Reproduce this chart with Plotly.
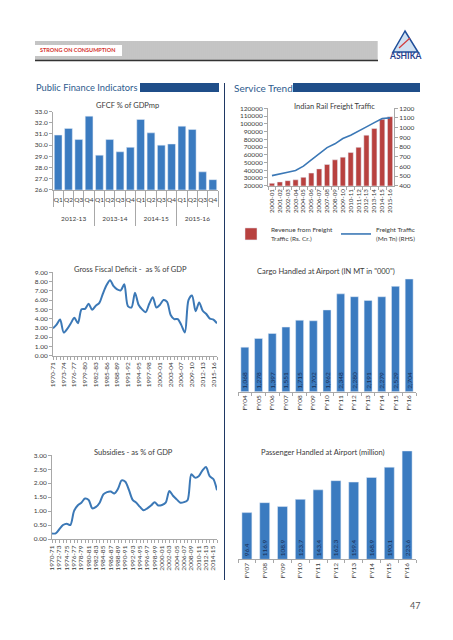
import plotly.graph_objects as go

# ---------------- DATA ----------------
gfcf_years = ["2012-13", "2013-14", "2014-15", "2015-16"]
quarters = ["Q1", "Q2", "Q3", "Q4"]
gfcf_values = [30.9, 31.5, 30.5, 32.6,
               29.1, 30.5, 29.4, 29.8,
               32.3, 31.1, 30.0, 30.1,
               31.7, 31.4, 27.6, 26.9]

rail_years = ["2000-01", "2001-02", "2002-03", "2003-04", "2004-05", "2005-06",
              "2006-07", "2007-08", "2008-09", "2009-10", "2010-11", "2011-12",
              "2012-13", "2013-14", "2014-15", "2015-16"]
rail_revenue = [23045, 24845, 26504, 27618, 30778, 36287, 41716, 47435,
                53433, 56911, 62845, 69548, 85263, 93906, 105791, 109208]
rail_traffic = [504, 519, 540, 557, 602, 667, 728, 794,
                833, 888, 922, 969, 1008, 1052, 1095, 1101]

gfd_years = ["1970-71", "1971-72", "1972-73", "1973-74", "1974-75", "1975-76",
             "1976-77", "1977-78", "1978-79", "1979-80", "1980-81", "1981-82",
             "1982-83", "1983-84", "1984-85", "1985-86", "1986-87", "1987-88",
             "1988-89", "1989-90", "1990-91", "1991-92", "1992-93", "1993-94",
             "1994-95", "1995-96", "1996-97", "1997-98", "1998-99", "1999-00",
             "2000-01", "2001-02", "2002-03", "2003-04", "2004-05", "2005-06",
             "2006-07", "2007-08", "2008-09", "2009-10", "2010-11", "2011-12",
             "2012-13", "2013-14", "2014-15", "2015-16", "2016-17"]
gfd_values = [2.95, 3.35, 3.9, 2.5, 2.9, 3.5, 4.1, 3.5, 5.0, 5.05,
              5.6, 4.95, 5.4, 5.7, 6.7, 7.6, 8.15, 7.5, 7.15, 7.05,
              7.7, 5.35, 5.2, 6.8, 5.5, 5.0, 4.7, 5.6, 6.3, 5.2,
              5.5, 6.0, 5.8, 4.4, 3.95, 3.95, 3.3, 2.5, 6.0, 6.5,
              4.8, 5.75, 4.85, 4.5, 4.0, 3.9, 3.5]
gfd_tick_labels = ["1970-71", "1973-74", "1976-77", "1979-80", "1982-83", "1985-86",
                   "1988-89", "1991-92", "1994-95", "1997-98", "2000-01", "2003-04",
                   "2006-07", "2009-10", "2012-13", "2015-16"]

subs_years = gfd_years[:46]
subs_values = [0.2, 0.2, 0.35, 0.5, 0.55, 0.5, 1.0, 1.2, 1.3, 1.45,
               1.4, 1.1, 1.15, 1.3, 1.6, 1.68, 1.7, 1.63, 1.8, 2.1,
               2.05, 1.75, 1.4, 1.3, 1.15, 1.03, 1.1, 1.2, 1.32, 1.2,
               1.22, 1.3, 1.72, 1.55, 1.42, 1.3, 1.32, 1.4, 2.32, 2.2,
               2.25, 2.45, 2.58, 2.25, 2.15, 1.75]
subs_tick_labels = ["1970-71", "1972-73", "1974-75", "1976-77", "1978-79", "1980-81",
                    "1982-83", "1984-85", "1986-87", "1988-89", "1990-91", "1992-93",
                    "1994-95", "1996-97", "1998-99", "2000-01", "2002-03", "2004-05",
                    "2006-07", "2008-09", "2010-11", "2012-13", "2014-15"]

cargo_years = ["FY04", "FY05", "FY06", "FY07", "FY08", "FY09", "FY10",
               "FY11", "FY12", "FY13", "FY14", "FY15", "FY16"]
cargo_values = [1068, 1278, 1397, 1551, 1715, 1702, 1962, 2348, 2280, 2191, 2279, 2529, 2704]

pass_years = ["FY07", "FY08", "FY09", "FY10", "FY11", "FY12", "FY13", "FY14", "FY15", "FY16"]
pass_values = [96.4, 116.9, 108.9, 123.7, 143.4, 162.3, 159.4, 168.9, 190.1, 223.6]

# ---------------- STYLE ----------------
W, H = 453, 640
def X(px):
    return px / W
def Y(py):
    return 1 - py / H

FONT = "Lato"
BLUE = "#3B7BC0"
RED = "#B8413F"
LINEC = "#3B78B6"
NAVY = "#1F4E89"
AX = "#a8a8a8"
TXT = "#3a3a3a"
TF = dict(size=6.5, color=TXT, family=FONT)
LBL = dict(size=6.5, color="#1A2F55", family=FONT)

fig = go.Figure()

gfcf_ids = [f"{y} {q}" for y in gfcf_years for q in quarters]
gfcf_qlabels = [q for _ in gfcf_years for q in quarters]
fig.add_trace(go.Bar(x=gfcf_ids, y=gfcf_values, marker_color=BLUE,
                     width=0.75, xaxis="x", yaxis="y", showlegend=False))
# carrier of the fiscal-year category axis (no visible marks)
fig.add_trace(go.Scatter(x=gfcf_years, y=[None] * len(gfcf_years), mode="markers",
                         marker=dict(opacity=0), xaxis="x8", yaxis="y",
                         showlegend=False, hoverinfo="skip"))

fig.add_trace(go.Bar(x=rail_years, y=rail_revenue, marker_color=RED, width=0.66,
                     name="Revenue from Freight<br>Traffic (Rs. Cr.)",
                     xaxis="x2", yaxis="y2"))
fig.add_trace(go.Scatter(x=rail_years, y=rail_traffic, mode="lines",
                         line=dict(color=LINEC, width=1.6),
                         name="Freight Traffic<br>(Mn Tn) (RHS)",
                         xaxis="x2", yaxis="y3"))

fig.add_trace(go.Scatter(x=gfd_years, y=gfd_values, mode="lines",
                         line=dict(color=LINEC, width=2, shape="spline", smoothing=0.8),
                         xaxis="x4", yaxis="y4", showlegend=False))

fig.add_trace(go.Bar(x=cargo_years, y=cargo_values, marker_color=BLUE, width=0.58,
                     texttemplate="%{y:,}", textposition="inside", insidetextanchor="start",
                     textangle=-90, constraintext="none",
                     textfont=LBL, insidetextfont=LBL,
                     xaxis="x5", yaxis="y5", showlegend=False))

fig.add_trace(go.Scatter(x=subs_years, y=subs_values, mode="lines",
                         line=dict(color=LINEC, width=2, shape="spline", smoothing=0.8),
                         xaxis="x6", yaxis="y6", showlegend=False))

fig.add_trace(go.Bar(x=pass_years, y=pass_values, marker_color=BLUE, width=0.56,
                     texttemplate="%{y:.1f}", textposition="inside", insidetextanchor="start",
                     textangle=-90, constraintext="none",
                     textfont=LBL, insidetextfont=LBL,
                     xaxis="x7", yaxis="y7", showlegend=False))

ycommon = dict(showgrid=False, zeroline=False, showline=True, linecolor=AX,
               ticks="outside", ticklen=3, tickcolor=AX, tickfont=TF, fixedrange=True,
               automargin=False)
xcommon = dict(showgrid=False, zeroline=False, showline=True, linecolor=AX,
               ticks="outside", ticklen=3, tickcolor=AX, tickfont=TF, fixedrange=True,
               automargin=False)

gfd_ticktext = [y if y in gfd_tick_labels else "" for y in gfd_years]
subs_ticktext = [y if y in subs_tick_labels else "" for y in subs_years]

fig.update_layout(
    width=W, height=H, autosize=False,
    margin=dict(l=0, r=0, t=0, b=0, autoexpand=False),
    paper_bgcolor="white", plot_bgcolor="rgba(0,0,0,0)",
    font=dict(family=FONT, color=TXT),
    # GFCF: quarter row
    xaxis=dict(xcommon, domain=[X(53), X(218)], anchor="y", type="category",
               tickmode="array", tickvals=gfcf_ids, ticktext=gfcf_qlabels,
               tickson="boundaries", ticklen=16, tickangle=0,
               ticklabelstandoff=3, range=[-0.5, 15.5]),
    # GFCF: fiscal-year row with long dividers
    xaxis8=dict(showgrid=False, zeroline=False, showline=False, overlaying="x",
                anchor="free", position=Y(226), type="category",
                categoryorder="array", categoryarray=gfcf_years,
                range=[-0.5, 3.5], tickmode="array", tickvals=gfcf_years,
                tickson="boundaries", ticks="inside", ticklen=36, tickcolor=AX,
                tickangle=0, tickfont=TF, ticklabelstandoff=-13,
                fixedrange=True, automargin=False),
    yaxis=dict(ycommon, domain=[Y(189.7), Y(111.7)], anchor="x", range=[26, 33],
               dtick=1, tickformat=".1f"),
    xaxis2=dict(xcommon, domain=[X(268), X(394)], anchor="y2", tickangle=-90,
                type="category", range=[-0.5, 15.5], tickson="boundaries",
                tickmode="array", tickvals=rail_years, tickfont=dict(TF, size=6.2)),
    yaxis2=dict(ycommon, domain=[Y(185.7), Y(108.3)], anchor="x2",
                range=[20000, 120000], dtick=10000, tickformat="d"),
    yaxis3=dict(ycommon, overlaying="y2", side="right", anchor="x2",
                range=[400, 1200], dtick=100, tickformat="d"),
    xaxis4=dict(xcommon, domain=[X(53), X(217)], anchor="y4", tickangle=-90,
                type="category", range=[0, len(gfd_years) - 1], tickmode="array",
                tickvals=gfd_years, ticktext=gfd_ticktext),
    yaxis4=dict(ycommon, domain=[Y(355.7), Y(272.3)], anchor="x4",
                range=[0, 9], dtick=1, tickformat=".2f"),
    xaxis5=dict(xcommon, domain=[X(238), X(416)], anchor="y5", tickangle=-90,
                type="category", range=[-0.5, len(cargo_years) - 0.5], tickson="boundaries"),
    yaxis5=dict(domain=[Y(391.7), Y(266.7)], anchor="x5", range=[0, 3000],
                visible=False, fixedrange=True),
    xaxis6=dict(xcommon, domain=[X(52), X(217)], anchor="y6", tickangle=-90,
                type="category", range=[0, len(subs_years) - 1], tickmode="array",
                tickvals=subs_years, ticktext=subs_ticktext),
    yaxis6=dict(ycommon, domain=[Y(539), Y(455.3)], anchor="x6",
                range=[0, 3], dtick=0.5, tickformat=".2f"),
    xaxis7=dict(xcommon, domain=[X(238), X(416)], anchor="y7", tickangle=-90,
                type="category", range=[-0.5, len(pass_years) - 0.5], tickson="boundaries"),
    yaxis7=dict(domain=[Y(559.3), Y(450.3)], anchor="x7", range=[0, 225],
                visible=False, fixedrange=True),
    legend=dict(orientation="h", x=X(231), y=Y(219), xanchor="left", yanchor="top",
                font=dict(size=6.5, color=TXT, family=FONT), bgcolor="rgba(0,0,0,0)",
                itemwidth=30, entrywidth=60, entrywidthmode="pixels",
                tracegroupgap=0),
)

shapes = []
# header band
shapes.append(dict(type="rect", xref="paper", yref="paper", x0=X(35), x1=X(378),
                   y0=Y(60), y1=Y(41), fillcolor="#d6d6d6", line=dict(width=0), layer="below"))
for sx in range(36, 378, 2):
    shapes.append(dict(type="line", xref="paper", yref="paper", x0=X(sx), x1=X(sx),
                       y0=Y(60), y1=Y(41), line=dict(color="#b3b3b3", width=1), layer="below"))
shapes.append(dict(type="rect", xref="paper", yref="paper", x0=X(35), x1=X(122),
                   y0=Y(56), y1=Y(45), fillcolor="white", line=dict(width=0)))
shapes.append(dict(type="line", xref="paper", yref="paper", x0=X(35), x1=X(378),
                   y0=Y(60.5), y1=Y(60.5), line=dict(color="#333333", width=1.5)))
# logo
shapes.append(dict(type="path", xref="paper", yref="paper",
                   path=f"M {X(405)} {Y(31)} L {X(393)} {Y(52)} L {X(418)} {Y(52)} Z",
                   fillcolor="#cfe0f1", line=dict(color="#1F4E9A", width=1.5)))
shapes.append(dict(type="line", xref="paper", yref="paper", x0=X(399), x1=X(410),
                   y0=Y(48), y1=Y(38), line=dict(color="#d23a3a", width=1.2)))
# section headers
shapes.append(dict(type="rect", xref="paper", yref="paper", x0=X(140), x1=X(219),
                   y0=Y(92), y1=Y(83), fillcolor=NAVY, line=dict(width=0)))
shapes.append(dict(type="rect", xref="paper", yref="paper", x0=X(293), x1=X(420),
                   y0=Y(92), y1=Y(83), fillcolor=NAVY, line=dict(width=0)))
shapes.append(dict(type="line", xref="paper", yref="paper", x0=X(224.5), x1=X(224.5),
                   y0=Y(580), y1=Y(83), line=dict(color="#1F3864", width=1)))
fig.update_layout(shapes=shapes)

def ann(text, px, py, size=8, color=TXT, xanchor="center", bold=False):
    if bold:
        text = f"<b>{text}</b>"
    fig.add_annotation(text=text, x=X(px), y=Y(py), xref="paper", yref="paper",
                       xanchor=xanchor, yanchor="middle", showarrow=False,
                       font=dict(size=size, color=color, family=FONT))

ann("STRONG ON CONSUMPTION", 38, 50.5, size=5.5, color="#d4322e", xanchor="left", bold=True)
ann("ASHIKA", 405, 56, size=8.5, color="#1F3E8C", bold=True)
ann("Public Finance Indicators", 34, 87.5, size=9.3, color="#2E5B8E", xanchor="left")
ann("Service Trend", 232, 87.5, size=10, color="#2E5B8E", xanchor="left")
ann("GFCF % of GDPmp", 127, 105.5, size=7.5)
ann("Indian Rail Freight Traffic", 334, 106, size=7.5)
ann("Gross Fiscal Deficit -  as % of GDP", 130, 269, size=7.5)
ann("Cargo Handled at Airport (IN MT in \"000\")", 326, 271.5, size=7.5)
ann("Subsidies - as % of GDP", 133, 452.5, size=7.5)
ann("Passenger Handled at Airport (million)", 323, 452.5, size=7.5)
ann("47", 415, 605, size=9, color="#555555")

fig.write_html("out.html", config={"displayModeBar": False},
               post_script="document.body.style.margin='0';")
